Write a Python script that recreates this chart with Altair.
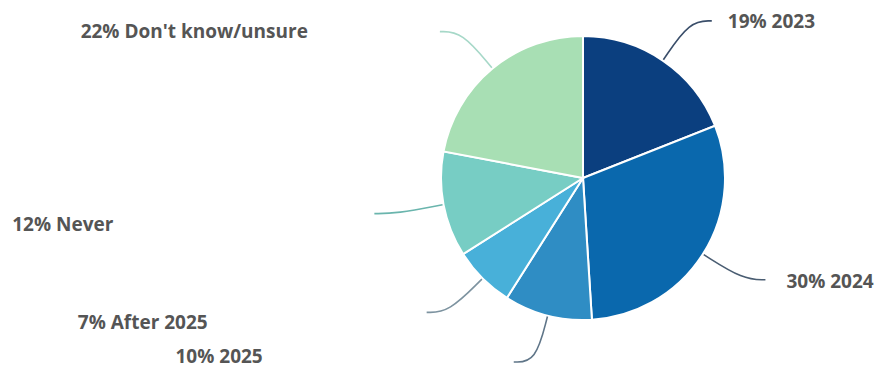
import altair as alt
import pandas as pd

# ---- data ----
categories = ["2023", "2024", "2025", "After 2025", "Never", "Don't know/unsure"]
values = [19, 30, 10, 7, 12, 22]

# ---- styles / layout ----
slice_colors = ["#0b3f7f", "#0a68ad", "#2f8dc4", "#48b0d9", "#77cdc4", "#a8dfb4"]
line_colors = ["#3a4e6a", "#4a5d72", "#5f7588", "#7d93a0", "#6ab5ad", "#a6d8c8"]
label_dx = [16, 21, -251, -219, -261, -132]
label_dy = [1, 2, -5, 11, 11, 0]

CX, CY, R = 575, 170, 142
R_LINE0, R_LINE1, ELBOW = 143, 190, 22

df = pd.DataFrame({
    "category": categories,
    "value": values,
    "order": list(range(len(categories))),
    "lcolor": line_colors,
    "ldx": label_dx,
    "ldy": label_dy,
})
df["label"] = [f"{v}% {c}" for v, c in zip(values, categories)]

base = alt.Chart(df)

pie = base.mark_arc(outerRadius=R, stroke="white", strokeWidth=2).encode(
    theta=alt.Theta("value:Q", stack=True),
    order=alt.Order("order:Q"),
    color=alt.Color("category:N", scale=alt.Scale(domain=categories, range=slice_colors), legend=None),
    x=alt.value(CX),
    y=alt.value(CY),
)

geo = base.transform_window(
    cum="sum(value)", sort=[alt.SortField("order")], frame=[None, 0]
).transform_joinaggregate(
    total="sum(value)"
).transform_calculate(
    mid="(datum.cum - datum.value/2) / datum.total * 2 * PI",
).transform_calculate(
    side="sin(datum.mid) >= 0 ? 1 : -1",
    ex=f"{CX} + {R_LINE1}*sin(datum.mid)",
    ey=f"{CY} - {R_LINE1}*cos(datum.mid)",
)

lines = geo.transform_calculate(
    s0="0", s1="1", s2="2"
).transform_fold(
    ["s0", "s1", "s2"], as_=["sk", "step"]
).transform_calculate(
    stepn="toNumber(datum.step)",
).transform_calculate(
    lx=f"datum.stepn == 0 ? {CX} + {R_LINE0}*sin(datum.mid) : (datum.stepn == 1 ? datum.ex : datum.ex + datum.side*{ELBOW})",
    ly=f"datum.stepn == 0 ? {CY} - {R_LINE0}*cos(datum.mid) : datum.ey",
).mark_line(interpolate="basis", strokeWidth=1.6).encode(
    x=alt.X("lx:Q", scale=None, axis=None),
    y=alt.Y("ly:Q", scale=None, axis=None),
    detail="category:N",
    order=alt.Order("stepn:Q"),
    color=alt.Color("lcolor:N", scale=None),
)

labels_base = geo.transform_calculate(
    tx=f"datum.ex + datum.side*{ELBOW} + datum.ldx",
    ty="datum.ey + datum.ldy",
)

text_style = dict(font="Open Sans", fontSize=19, fontWeight="bold", color="#555555", baseline="middle")

labels_right = labels_base.transform_filter("datum.side > 0").mark_text(align="left", **text_style).encode(
    x=alt.X("tx:Q", scale=None, axis=None),
    y=alt.Y("ty:Q", scale=None, axis=None),
    text="label:N",
)
labels_left = labels_base.transform_filter("datum.side < 0").mark_text(align="right", **text_style).encode(
    x=alt.X("tx:Q", scale=None, axis=None),
    y=alt.Y("ty:Q", scale=None, axis=None),
    text="label:N",
)

chart = alt.layer(pie, lines, labels_right, labels_left).properties(
    width=870, height=362, padding=0, background="white",
    autosize=alt.AutoSizeParams(type="none"),
).configure_view(stroke=None)

chart.save("out.html", embed_options={"renderer": "svg", "actions": False})
